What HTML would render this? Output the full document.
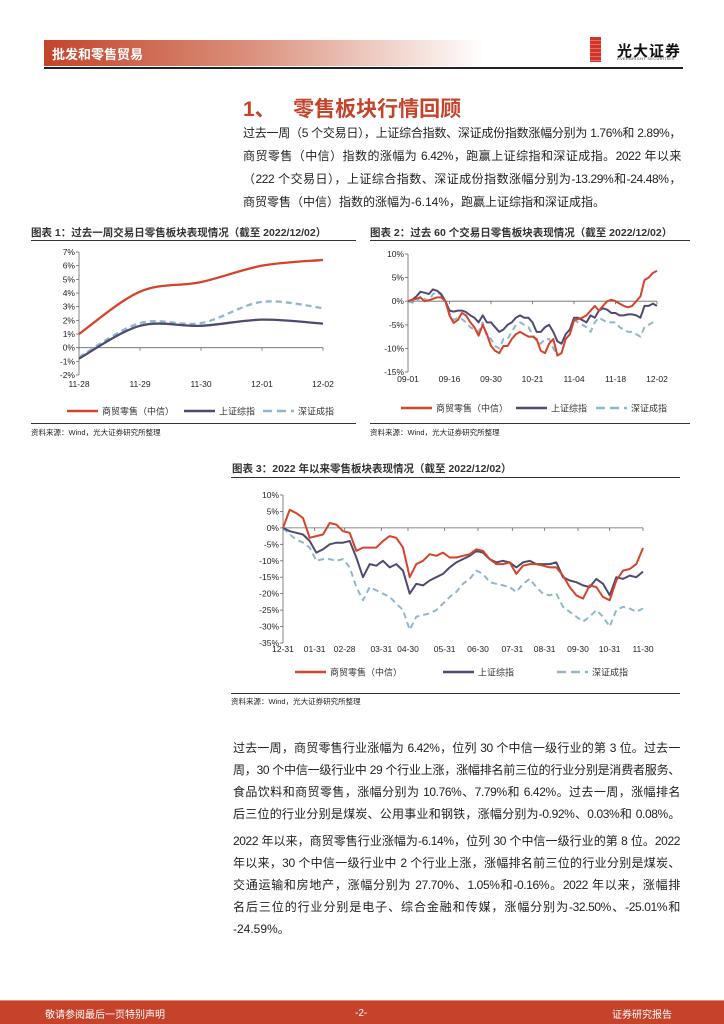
<!DOCTYPE html>
<html><head><meta charset="utf-8">
<style>
body{margin:0;background:#fff;}
#page{position:relative;width:724px;height:1024px;overflow:hidden;font-family:"Liberation Sans","Noto Sans CJK SC",sans-serif;color:#222;}
.abs{position:absolute;}
.p{position:absolute;font-size:12px;line-height:22px;white-space:nowrap;}
.j{text-align:justify;text-align-last:justify;white-space:normal;height:22px;overflow:hidden;letter-spacing:-0.4px;}
.ct{position:absolute;font-size:10.5px;font-weight:bold;color:#333;white-space:nowrap;}
.src{position:absolute;font-size:7.5px;color:#222;white-space:nowrap;}
svg text{font-family:"Liberation Sans","Noto Sans CJK SC",sans-serif;}
</style></head>
<body>
<div id="page">
  <div class="abs" style="left:44px;top:40px;width:440px;height:26px;background:linear-gradient(90deg,#c5432a 0%,#d98d78 45%,#fff 100%);"></div>
  <div class="abs" style="left:52px;top:44px;font-size:13px;font-weight:bold;color:#fff;">批发和零售贸易</div>
  <div class="abs" style="left:44px;top:67px;width:639px;height:1.5px;background:#222;"></div>
  <div class="abs" style="left:590px;top:37px;width:11px;height:25px;background:repeating-linear-gradient(180deg,#d2332a 0 3px,#e87060 3px 4px);"></div>
  <div class="abs" style="left:617px;top:40px;font-size:15px;font-weight:bold;color:#111;letter-spacing:1px;">光大证券</div>
  <div class="abs" style="left:617px;top:56px;font-size:4px;color:#333;letter-spacing:.3px;">EVERBRIGHT SECURITIES</div>

  <div class="abs" style="left:243px;top:93px;font-size:21px;font-weight:bold;color:#c5432a;white-space:nowrap;">1、&nbsp;&nbsp;&nbsp;零售板块行情回顾</div>
  <div class="p j" style="left:243px;top:122px;width:438px;">过去一周（5 个交易日），上证综合指数、深证成份指数涨幅分别为 1.76%和 2.89%，</div>
  <div class="p j" style="left:243px;top:145px;width:438px;">商贸零售（中信）指数的涨幅为 6.42%，跑赢上证综指和深证成指。2022 年以来</div>
  <div class="p j" style="left:243px;top:168px;width:438px;">（222 个交易日），上证综合指数、深证成份指数涨幅分别为-13.29%和-24.48%，</div>
  <div class="p" style="left:243px;top:191px;">商贸零售（中信）指数的涨幅为-6.14%，跑赢上证综指和深证成指。</div>

  <div class="ct" style="left:31px;top:225px;">图表 1：过去一周交易日零售板块表现情况（截至 2022/12/02）</div>
  <div class="abs" style="left:31px;top:240px;width:325px;height:1px;background:#333;"></div>
  <svg class="abs" style="left:0;top:0" width="724" height="1024" id="svg"></svg>
  <div class="abs" style="left:31px;top:423px;width:325px;height:1px;background:#333;"></div>
  <div class="src" style="left:31px;top:427px;">资料来源：Wind，光大证券研究所整理</div>

  <div class="ct" style="left:370px;top:225px;">图表 2：过去 60 个交易日零售板块表现情况（截至 2022/12/02）</div>
  <div class="abs" style="left:370px;top:240px;width:320px;height:1px;background:#333;"></div>
  <div class="abs" style="left:370px;top:423px;width:320px;height:1px;background:#333;"></div>
  <div class="src" style="left:370px;top:427px;">资料来源：Wind，光大证券研究所整理</div>

  <div class="ct" style="left:232px;top:461px;">图表 3：2022 年以来零售板块表现情况（截至 2022/12/02）</div>
  <div class="abs" style="left:231px;top:477px;width:449px;height:1px;background:#333;"></div>
  <div class="abs" style="left:231px;top:693px;width:449px;height:1px;background:#333;"></div>
  <div class="src" style="left:231px;top:696px;">资料来源：Wind，光大证券研究所整理</div>

  <div class="p j" style="left:233px;top:737px;width:447px;">过去一周，商贸零售行业涨幅为 6.42%，位列 30 个中信一级行业的第 3 位。过去一</div>
  <div class="p j" style="left:233px;top:759px;width:447px;">周，30 个中信一级行业中 29 个行业上涨，涨幅排名前三位的行业分别是消费者服务、</div>
  <div class="p j" style="left:233px;top:781px;width:447px;">食品饮料和商贸零售，涨幅分别为 10.76%、7.79%和 6.42%。过去一周，涨幅排名</div>
  <div class="p j" style="left:233px;top:803px;width:447px;">后三位的行业分别是煤炭、公用事业和钢铁，涨幅分别为-0.92%、0.03%和 0.08%。</div>
  <div class="p j" style="left:233px;top:830px;width:447px;">2022 年以来，商贸零售行业涨幅为-6.14%，位列 30 个中信一级行业的第 8 位。2022</div>
  <div class="p j" style="left:233px;top:852px;width:447px;">年以来，30 个中信一级行业中 2 个行业上涨，涨幅排名前三位的行业分别是煤炭、</div>
  <div class="p j" style="left:233px;top:874px;width:447px;">交通运输和房地产，涨幅分别为 27.70%、1.05%和-0.16%。2022 年以来，涨幅排</div>
  <div class="p j" style="left:233px;top:896px;width:447px;">名后三位的行业分别是电子、综合金融和传媒，涨幅分别为-32.50%、-25.01%和</div>
  <div class="p" style="left:233px;top:918px;">-24.59%。</div>

  <div class="abs" style="left:0;top:1000px;width:724px;height:24px;background:#c5432a;border-top:1px solid #e08a78;"></div>
  <div class="abs" style="left:45px;top:1006px;font-size:10px;color:#fff;">敬请参阅最后一页特别声明</div>
  <div class="abs" style="left:355px;top:1008px;font-size:10px;color:#fff;">-2-</div>
  <div class="abs" style="left:612px;top:1006px;font-size:10px;color:#fff;">证券研究报告</div>
</div>
<script>
// ---- Chart 1 data ----
const c1Cats = ["11-28","11-29","11-30","12-01","12-02"];
const c1Retail = [1.0, 4.1, 4.8, 6.0, 6.42];
const c1SH = [-0.8, 1.6, 1.6, 2.05, 1.76];
const c1SZ = [-0.7, 1.8, 1.8, 3.35, 2.89];
const c1Ticks = [7,6,5,4,3,2,1,0,-1,-2];
// ---- Chart 2 data ----
const c2Labels = ["09-01","09-16","09-30","10-21","11-04","11-18","12-02"];
const c2LabelIdx = [0,10,20,30,40,50,60];
const c2Retail = [0,0.3,0.5,0.8,0,0.2,0.5,0.8,0.8,0,-3,-4.6,-4,-2.5,-3,-4.5,-5.5,-7.3,-5,-7,-9.5,-10.5,-11,-9.5,-9.5,-8,-7,-6.5,-7,-7.5,-7.5,-8,-10.5,-11,-9,-8,-11.5,-11,-8,-7,-4,-3.8,-3.5,-3,-2,-1,-2,-1,0,0.3,0,-0.5,-1,-1.3,-1,0,1,4.5,5,6,6.42];
const c2SH = [0,0.3,1,2,1.8,1.5,2.5,2.2,1.5,0,-2,-2.2,-2,-2,-2.3,-3,-3.5,-4.5,-3,-4.5,-4.5,-5.5,-6.5,-6,-5,-4.5,-3.5,-3,-3.5,-3.5,-4.5,-6.5,-6.5,-5.5,-5,-6.5,-8.5,-9,-7,-6,-3.5,-3.5,-4,-4.5,-3,-3.5,-2,-1.5,-1.8,-2.5,-2.5,-3,-3,-2.8,-2.8,-3,-3.5,-1,-1,-0.5,-1];
const c2SZ = [0,-0.3,-0.3,1,0.5,0,1.5,2,1.3,0,-2.5,-4,-3.5,-3.8,-4.5,-5.5,-6,-6.5,-4.5,-7.5,-8,-9.5,-10,-8,-8,-6.5,-5,-4.5,-5,-5.5,-7,-8.5,-9,-8,-8,-10,-11.5,-11,-8,-7,-4,-4.5,-5,-5.5,-6.5,-4.5,-3.5,-4,-4.5,-4.5,-4.5,-5.5,-6,-6.5,-6.5,-7,-7.5,-5.5,-5,-4.5,-4.2];
const c2Ticks = [10,5,0,-5,-10,-15];
// ---- Chart 3 data ----
const c3Labels = ["12-31","01-31","02-28","03-31","04-30","05-31","06-30","07-31","08-31","09-30","10-31","11-30"];
const c3LabelIdx = [0,4.75,9.25,14.75,18.75,24.25,29.25,34.4,39.25,44.25,49,54];
const c3Retail = [0,5.5,4.5,3,-3,-2.5,-2,1.5,1,-1,-1.5,-7,-6,-6,-6,-4,-2.5,-3,-6,-15,-11,-10,-8,-8.5,-7.5,-9,-9,-8.5,-8,-6.5,-7,-9.5,-11,-11,-10.5,-14,-11.5,-11,-11,-11.5,-12,-12,-14.5,-18,-20.5,-21.5,-17.5,-18,-21,-22,-16,-13,-12.5,-11,-6.1];
const c3SH = [0,-1,-1.5,-2,-4,-7.5,-6.5,-5,-4.5,-4.5,-4,-9,-15,-11,-11.5,-10,-12,-11,-13,-20,-17,-17.5,-16,-15,-14,-12,-10.5,-9.5,-8.5,-7,-7.5,-9.5,-10.5,-10,-10.5,-12,-10.5,-10,-11,-11,-11,-10.5,-15,-16,-16.5,-17.5,-18,-15.5,-17,-20.5,-15,-15.5,-14.5,-15,-13.3];
const c3SZ = [0,-2,-3.5,-4.5,-6,-10,-9.5,-9.5,-10,-9.5,-12,-18,-22,-18,-19,-20,-21,-23,-25,-31,-27,-26.5,-26,-25,-23,-21,-19.5,-17,-15.5,-13,-14,-16.5,-17,-17.5,-18,-19.5,-17,-15.5,-18,-20,-20.5,-20,-24,-25.5,-27,-28.5,-27,-25,-27,-30,-25,-24,-24.5,-25.5,-24.5];
const c3Ticks = [10,5,0,-5,-10,-15,-20,-25,-30,-35];
const legendNames = ["商贸零售（中信）","上证综指","深证成指"];

const NS="http://www.w3.org/2000/svg";
const svg=document.getElementById('svg');
const RED="#d4432a", PUR="#4f4a72", BLU="#8fb7cc";
function el(tag,attrs){const e=document.createElementNS(NS,tag);for(const k in attrs)e.setAttribute(k,attrs[k]);svg.appendChild(e);return e;}
function linePath(pts,smooth){
  if(!smooth)return pts.map((p,i)=>(i?'L':'M')+p[0].toFixed(1)+' '+p[1].toFixed(1)).join('');
  let d='M'+pts[0][0]+' '+pts[0][1];
  for(let i=0;i<pts.length-1;i++){const p0=pts[i-1]||pts[i],p1=pts[i],p2=pts[i+1],p3=pts[i+2]||p2;
    d+=`C${p1[0]+(p2[0]-p0[0])/6} ${p1[1]+(p2[1]-p0[1])/6} ${p2[0]-(p3[0]-p1[0])/6} ${p2[1]-(p3[1]-p1[1])/6} ${p2[0]} ${p2[1]}`;}
  return d;
}
function chart(o){
  const X=i=>o.x0+(o.x1-o.x0)*i/o.n, Y=v=>o.y0+(o.yMax-v)*(o.y1-o.y0)/(o.yMax-o.yMin);
  let a=el('line',{x1:o.x0,y1:o.y0,x2:o.x0,y2:o.y1,stroke:'#666','stroke-width':0.8});
  
  o.ticks.forEach(t=>{
    el('line',{x1:o.x0-3,x2:o.x0,y1:Y(t),y2:Y(t),stroke:'#666','stroke-width':0.8});
    const tx=el('text',{x:o.x0-4,y:Y(t)+3,'font-size':8.5,'text-anchor':'end',fill:'#222'});tx.textContent=t+'%';
    
  });
  const z=el('line',{x1:o.x0,x2:o.x1,y1:Y(0),y2:Y(0),stroke:'#666','stroke-width':0.8});
  
  o.labels.forEach((l,k)=>{const x=X(o.labelIdx[k]);
    el('line',{x1:x,x2:x,y1:Y(0),y2:Y(0)+3,stroke:'#666','stroke-width':0.8});
    const tx=el('text',{x:x,y:o.labelY,'font-size':8.5,'text-anchor':'middle',fill:'#222'});tx.textContent=l;
    
  });
  const ser=[[o.s[2],BLU,'6 4','sz-line'],[o.s[1],PUR,'','sh-line'],[o.s[0],RED,'','retail-line']];
  ser.forEach(s=>{const p=el('path',{d:linePath(s[0].map((v,i)=>[X(i),Y(v)]),o.smooth),fill:'none',stroke:s[1],'stroke-width':o.sw,'stroke-dasharray':s[2],'stroke-linejoin':'round'});
    });
  const cols=[RED,PUR,BLU];
  o.leg.forEach((lx,k)=>{const ln=el('line',{x1:lx,x2:lx+31,y1:o.legY,y2:o.legY,stroke:cols[k],'stroke-width':2.5,'stroke-dasharray':k==2?'9 5':''});
    
    const tx=el('text',{x:lx+35,y:o.legY+3.5,'font-size':9,fill:'#333'});tx.textContent=legendNames[k];
    });
}
chart({id:'chart1',x0:79,x1:323,y0:252,y1:375,yMax:7,yMin:-2,n:c1Cats.length-1,ticks:c1Ticks,labels:c1Cats,labelIdx:[0,1,2,3,4],labelY:387,s:[c1Retail,c1SH,c1SZ],smooth:true,sw:2.3,leg:[67,184,263],legY:411});
chart({id:'chart2',x0:408,x1:657,y0:254,y1:372,yMax:10,yMin:-15,n:60,ticks:c2Ticks,labels:c2Labels,labelIdx:c2LabelIdx,labelY:382,s:[c2Retail,c2SH,c2SZ],smooth:false,sw:2,leg:[401,516,596],legY:408});
chart({id:'chart3',x0:283,x1:643,y0:495,y1:643,yMax:10,yMin:-35,n:54,ticks:c3Ticks,labels:c3Labels,labelIdx:c3LabelIdx,labelY:652,s:[c3Retail,c3SH,c3SZ],smooth:false,sw:2,leg:[295,443,557],legY:672});
</script>
</body></html>
